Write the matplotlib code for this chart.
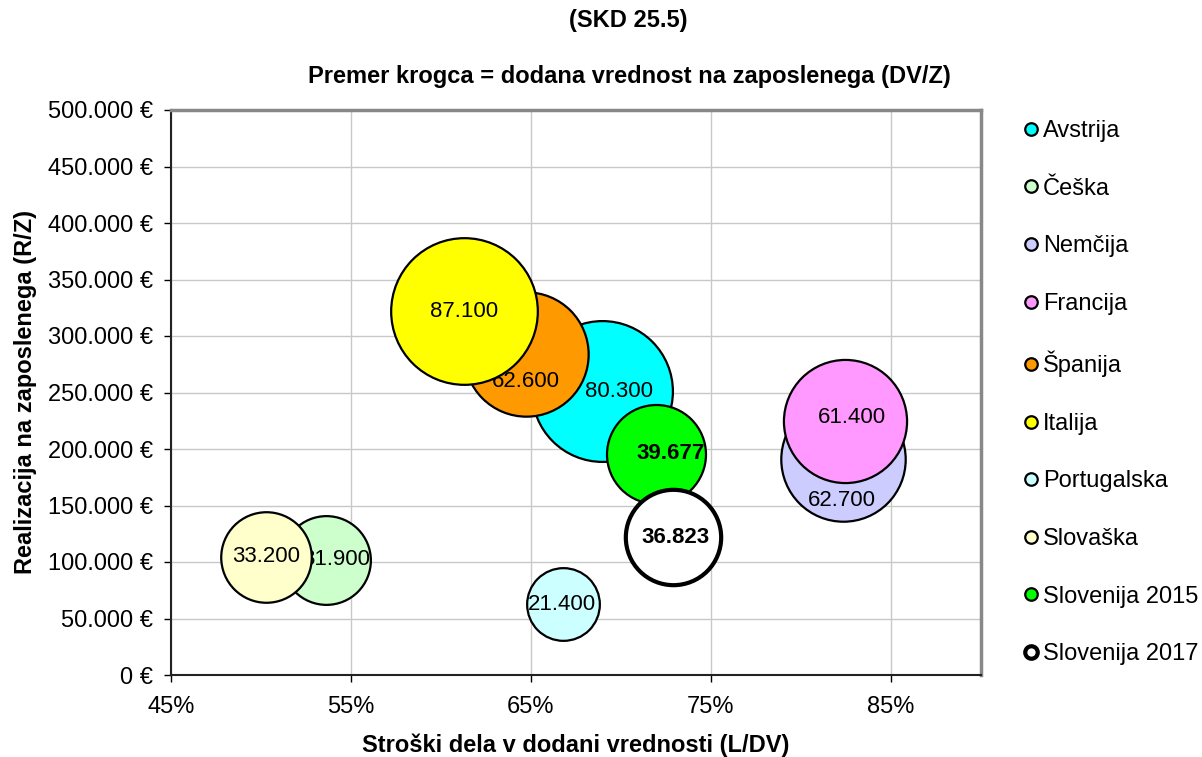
import matplotlib.pyplot as plt
from matplotlib.lines import Line2D
from matplotlib.ticker import FuncFormatter, MultipleLocator

plt.rcParams['font.family'] = ['Liberation Sans', 'DejaVu Sans']

countries = ['Avstrija', 'Češka', 'Nemčija', 'Francija', 'Španija', 'Italija',
             'Portugalska', 'Slovaška', 'Slovenija 2015', 'Slovenija 2017']
# stroški dela v dodani vrednosti (L/DV), %
labour_share = [68.96, 53.6, 82.35, 82.43, 64.7, 61.3, 66.8, 50.28, 71.93, 72.9]
# realizacija na zaposlenega (R/Z), EUR
revenue = [251100, 101800, 191200, 225200, 284300, 322100, 62800, 104700, 195700, 122100]
# dodana vrednost na zaposlenega (DV/Z), EUR
value_added = [80300, 31900, 62700, 61400, 62600, 87100, 21400, 33200, 39677, 36823]
colors = ['#00FFFF', '#CCFFCC', '#CCCCFF', '#FF99FF', '#FF9900', '#FFFF00',
          '#CCFFFF', '#FFFFCC', '#00FF00', '#FFFFFF']
# label offsets in points (as placed in the original chart)
label_dx = [12, 7.5, -1, 5, 0, 0, -1, 0, 11, 2]
label_dy = [0, 0, -30, 2, -20, 0, 0, 0, 0, 0]

FS = 17


def thousands(v):
    return f"{int(round(v)):,}".replace(",", ".")


fig = plt.figure(figsize=(12.02, 7.57), dpi=100)
ax = fig.add_axes([171 / 1202, 1 - 675 / 757, 810 / 1202, 565 / 757])

for i, name in enumerate(countries):
    last = name == 'Slovenija 2017'
    ax.scatter(labour_share[i], revenue[i], s=value_added[i] * 0.128,
               c=colors[i], edgecolors='black', linewidths=3.0 if last else 1.6,
               zorder=3 + i)
    bold = name.startswith('Slovenija')
    ax.annotate(thousands(value_added[i]), (labour_share[i], revenue[i]),
                xytext=(label_dx[i], label_dy[i]), textcoords='offset points',
                ha='center', va='center', fontsize=16,
                fontweight='bold' if bold else 'normal', zorder=3.5 + i)

ax.set_xlim(45, 90)
ax.set_ylim(0, 500000)
ax.set_xticks([45, 55, 65, 75, 85])
ax.yaxis.set_major_locator(MultipleLocator(50000))
ax.xaxis.set_major_formatter(FuncFormatter(lambda v, p: f"{v:.0f}%"))
ax.yaxis.set_major_formatter(FuncFormatter(lambda v, p: thousands(v) + " €"))
ax.tick_params(labelsize=FS, length=5, width=1, direction='out')
ax.tick_params(axis='x', pad=10)
ax.tick_params(axis='y', pad=8)
ax.grid(True, color='#c8c8c8', linewidth=1)
ax.set_axisbelow(True)

for side in ['left', 'bottom']:
    ax.spines[side].set_color('#222222')
    ax.spines[side].set_linewidth(1.5)
for side in ['top', 'right']:
    ax.spines[side].set_color('#888888')
    ax.spines[side].set_linewidth(2.5)

ax.set_ylabel('Realizacija na zaposlenega (R/Z)', fontsize=FS,
              fontweight='bold', labelpad=8)
fig.text(576 / 1202, 1 - 745 / 757, 'Stroški dela v dodani vrednosti (L/DV)',
         ha='center', va='center', fontsize=FS, fontweight='bold')

fig.text(0.523, 1 - 20 / 757, '(SKD 25.5)', ha='center', va='center',
         fontsize=FS, fontweight='bold')
fig.text(0.524, 1 - 77 / 757, 'Premer krogca = dodana vrednost na zaposlenega (DV/Z)',
         ha='center', va='center', fontsize=FS, fontweight='bold')

handles = [Line2D([], [], marker='o', linestyle='none', markersize=9,
                  markerfacecolor=c, markeredgecolor='black',
                  markeredgewidth=3 if n == 'Slovenija 2017' else 1.6)
           for n, c in zip(countries, colors)]
fig.legend(handles, countries, loc='upper left',
           bbox_to_anchor=(1024 / 1202, 1 - 120 / 757), frameon=False,
           fontsize=FS, labelspacing=1.51, handlelength=0.6, handletextpad=0.2,
           borderaxespad=0, borderpad=0)

fig.savefig('out.png', dpi=100)
